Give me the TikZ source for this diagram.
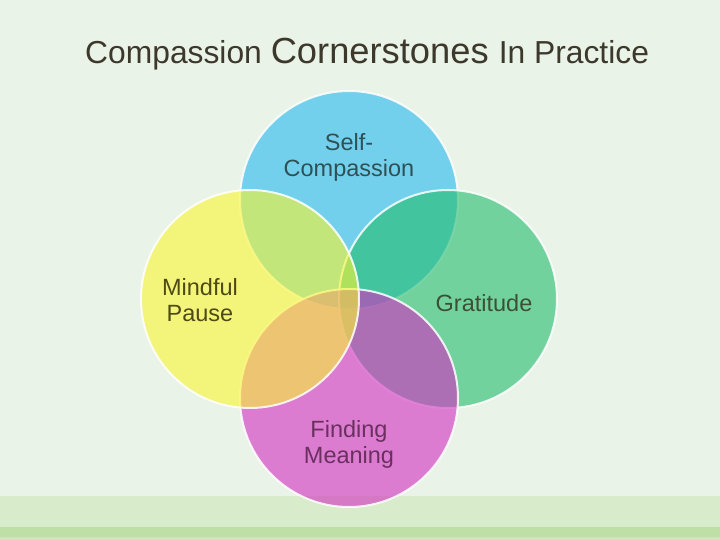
\documentclass[tikz,border=0pt]{standalone}
\usepackage{fontspec}
\setmainfont{Liberation Sans}

\definecolor{bgcol}{RGB}{234,243,232}
\definecolor{bandA}{RGB}{216,235,202}
\definecolor{bandB}{RGB}{190,223,166}
\definecolor{bandC}{RGB}{205,230,188}
\definecolor{titlecol}{RGB}{61,56,44}
\definecolor{cblue}{RGB}{37,185,239}
\definecolor{cgreen}{RGB}{34,188,109}
\definecolor{cmag}{RGB}{211,45,195}
\definecolor{cyellow}{RGB}{249,245,49}
\definecolor{tblue}{RGB}{47,80,84}
\definecolor{tgreen}{RGB}{60,80,52}
\definecolor{tmag}{RGB}{107,47,96}
\definecolor{tyellow}{RGB}{79,74,20}

\begin{document}
\begin{tikzpicture}[x=1pt,y=-1pt,
    venn/.style={circle,minimum size=218pt,inner sep=0pt,fill=#1,fill opacity=0.6,
      draw=white,draw opacity=0.85,line width=2pt},
    lbl/.style={font=\fontsize{23.5}{26}\selectfont,align=center,inner sep=0pt,text=#1}]

    % Fond et bandes
    \fill[bgcol] (0,0) rectangle (720,540);
    \useasboundingbox (0,0) rectangle (720,540);
    \fill[bandA] (0,496) rectangle (720,527);
    \fill[bandB] (0,527) rectangle (720,537);
    \fill[bandC] (0,537) rectangle (720,540);

    % Titre
    \node[anchor=base west,inner sep=0pt,text=titlecol] (titre) at (85,64)
      {\fontsize{31.8}{36}\selectfont Compassion \fontsize{36.3}{40}\selectfont Cornerstones
       \fontsize{31.8}{36}\selectfont In Practice};

    % Cercles
    \node[venn=cblue] (self) at (349,200) {};
    \node[venn=cgreen] (grat) at (448,299) {};
    \node[venn=cmag] (meaning) at (349,398) {};
    \node[venn=cyellow] (mindful) at (250,299) {};

    % Etiquettes
    \node[lbl=tblue,anchor=base] (lself) at (349,177) {Self-\\Compassion};
    \node[lbl=tyellow,anchor=base] (lmindful) at (200,321) {Mindful\\Pause};
    \node[lbl=tgreen,anchor=base] (lgrat) at (484,311) {Gratitude};
    \node[lbl=tmag,anchor=base] (lmeaning) at (349,463) {Finding\\Meaning};
\end{tikzpicture}
\end{document}
